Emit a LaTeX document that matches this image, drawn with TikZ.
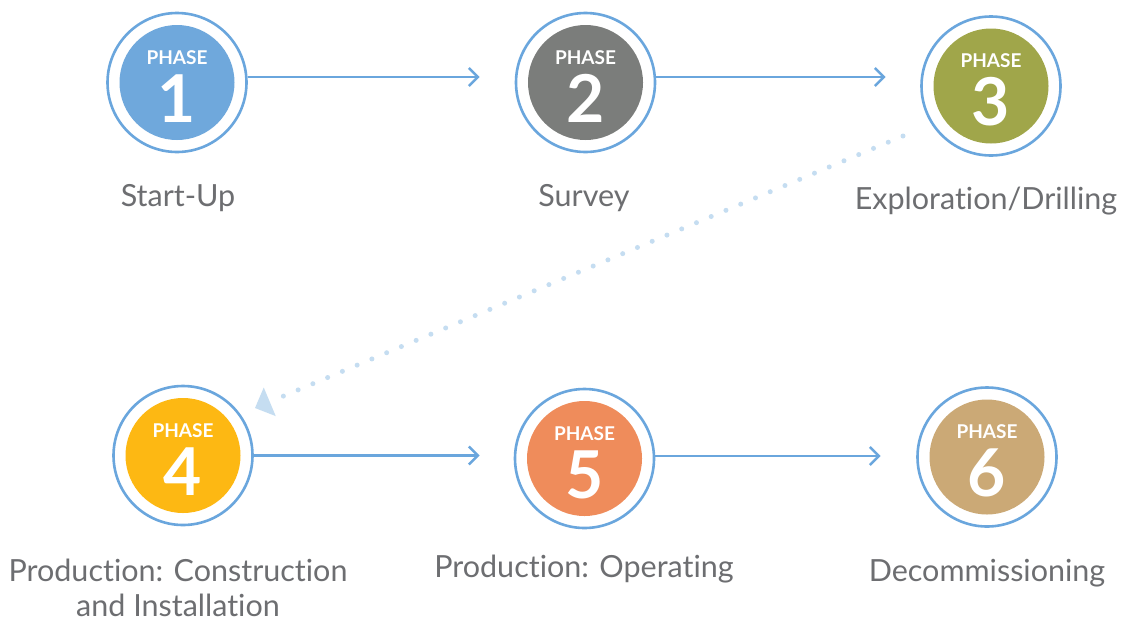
\documentclass[tikz,border=0pt]{standalone}
\usepackage{fontspec}
\setmainfont{Lato}[Ligatures=NoCommon]
\usetikzlibrary{arrows.meta,calc}
\definecolor{ringc}{HTML}{6AA6DD}
\definecolor{dotc}{HTML}{C5DDF1}
\definecolor{txtc}{HTML}{6D6E71}
\definecolor{cone}{HTML}{6FA8DC}
\definecolor{ctwo}{HTML}{7B7D7B}
\definecolor{cthree}{HTML}{A0A64A}
\definecolor{cfour}{HTML}{FDB813}
\definecolor{cfive}{HTML}{EF8C5B}
\definecolor{csix}{HTML}{CBA976}
\begin{document}
\begin{tikzpicture}[x=1pt,y=-1pt,
  ringnode/.style={circle,draw=ringc,line width=2.6pt,minimum size=139pt,inner sep=0pt},
  phaselbl/.style={text=white,font=\bfseries\fontsize{19}{19}\selectfont,inner sep=0pt},
  numlbl/.style={text=white,font=\bfseries\fontsize{66}{66}\selectfont,inner sep=0pt},
  caption/.style={text=txtc,font=\fontsize{30.5}{36}\selectfont,inner sep=0pt,anchor=base},
  arr/.style={draw=ringc,line width=2.6pt,-{Straight Barb[length=9pt 0 0,width=18pt 0 0,line width=2.6pt]}},
  dotline/.style={draw=dotc,line width=5pt,line cap=round,dash pattern=on 0pt off 16pt},
]
\useasboundingbox (0,0) rectangle (1125,622);
\fill[white] (0,0) rectangle (1125,622);

% rings
\node[ringnode] (p1) at (177,82.5) {};
\node[ringnode] (p2) at (585.5,82.5) {};
\node[ringnode] (p3) at (991,86) {};
\node[ringnode] (p4) at (183,455.5) {};
\node[ringnode] (p5) at (584.5,458.5) {};
\node[ringnode] (p6) at (987,457) {};

% inner discs
\fill[cone] (p1) circle (57.5pt);
\fill[ctwo] (p2) circle (57.5pt);
\fill[cthree] (p3) circle (57.5pt);
\fill[cfour] (p4) circle (57.5pt);
\fill[cfive] (p5) circle (57.5pt);
\fill[csix] (p6) circle (57.5pt);

% phase labels
\foreach \p/\n in {p1/1,p2/2,p3/3,p4/4,p5/5,p6/6}{
  \node[phaselbl] (\p t) at ($(\p)+(0,-25)$) {PHASE};
  \node[numlbl] (\p n) at ($(\p)+(0,16)$) {\n};
}

% arrows
\draw[arr,shorten >=35pt] ([yshift=5.5pt]p1.east) -- ([yshift=5.5pt]p2.west);
\draw[arr,shorten >=34.5pt] ([yshift=5.5pt]p2.east) -- ([yshift=5.5pt]p2.east -| p3.west);
\draw[arr,shorten >=34pt] (p4.east) -- (p4.east -| p5.west);
\draw[arr,shorten >=35.5pt] ([yshift=2.5pt]p5.east) -- ([yshift=2.5pt]p5.east -| p6.west);

% dotted return connector
\coordinate (d3) at (903,136);
\coordinate (d4) at (255,408);
\draw[dotline,shorten >=20pt] (d3) -- (d4);
\coordinate (dbase) at ($(d4)!16pt!(d3)$);
\fill[dotc] (d4) -- ($(dbase)!15.5pt!90:(d4)$) -- ($(dbase)!15.5pt!-90:(d4)$) -- cycle;

% captions
\node[caption] (c1) at (178,206) {Start-Up};
\node[caption] (c2) at (584,206) {Survey};
\node[caption] (c3) at (986,209) {Exploration/Drilling};
\node[caption] (c4a) at (178,581) {Production: Construction};
\node[caption] (c4b) at (178,616) {and Installation};
\node[caption] (c5) at (584,577) {Production: Operating};
\node[caption] (c6) at (987,581) {Decommissioning};
\end{tikzpicture}
\end{document}
